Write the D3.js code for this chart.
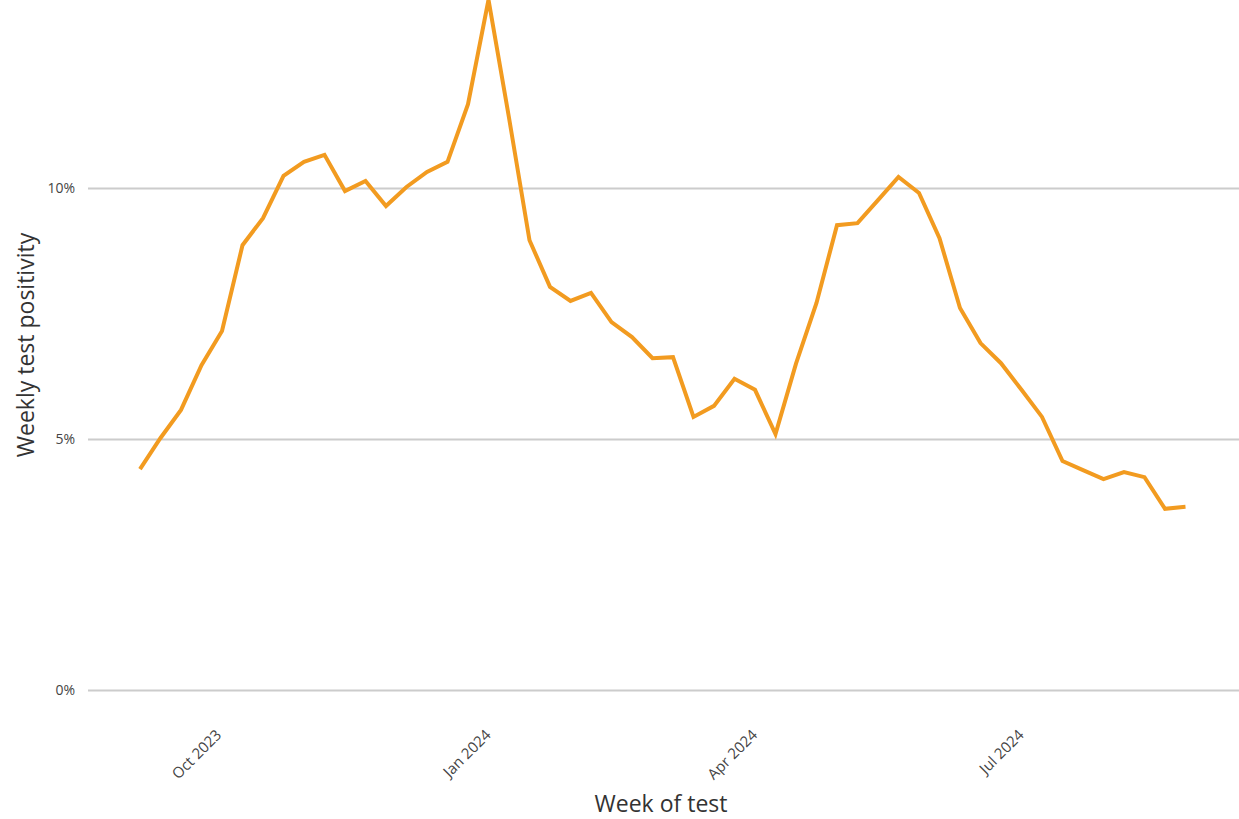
<!DOCTYPE html>
<html>
<head>
<meta charset="utf-8">
<script src="https://cdn.jsdelivr.net/npm/d3@7"></script>
<style>
  body { margin: 0; background: #fff; }
  text { font-family: "Open Sans", sans-serif; }
</style>
</head>
<body>
<div id="chart"></div>
<script>
// weekly positivity, first week starting 2023-09-04
const startWeek = '2023-09-04';
const positivity = [
  4.40, 5.02, 5.58, 6.47, 7.15, 8.86, 9.40, 10.24, 10.52, 10.66,
  9.94, 10.14, 9.64, 10.02, 10.32, 10.52, 11.67, 13.75, 11.40, 8.96,
  8.03, 7.75, 7.91, 7.33, 7.03, 6.61, 6.63, 5.44, 5.66, 6.20,
  5.98, 5.10, 6.50, 7.71, 9.26, 9.30, 9.76, 10.22, 9.90, 9.00,
  7.61, 6.91, 6.51, 5.98, 5.44, 4.56, 4.38, 4.20, 4.34, 4.24,
  3.61, 3.65
];
const yTicks = [0, 5, 10];
const xTicks = ['2023-10-01', '2024-01-01', '2024-04-01', '2024-07-01'];

const width = 1239;
const height = 819;

const t0 = new Date(startWeek + 'T00:00');
const data = positivity.map((v, i) => ({
  date: d3.timeDay.offset(t0, i * 7),
  value: v
}));

const svg = d3.select('#chart')
  .append('svg')
  .attr('width', width)
  .attr('height', height);

const xScale = d3.scaleTime()
  .domain(d3.extent(data, d => d.date))
  .range([140, 1185.5]);

const yScale = d3.scaleLinear()
  .domain([0, 10])
  .range([690, 188]);

// gridlines
svg.append('g')
  .attr('transform', 'translate(88,0)')
  .call(d3.axisLeft(yScale).tickValues(yTicks).tickFormat('').tickSize(-(width - 88)))
  .call(g => g.select('.domain').remove())
  .call(g => g.selectAll('line').attr('stroke', '#cccccc').attr('stroke-width', 2));

// y labels
svg.append('g')
  .attr('transform', 'translate(88,0)')
  .call(d3.axisLeft(yScale).tickValues(yTicks).tickSize(0).tickPadding(13).tickFormat(d => d + '%'))
  .call(g => g.select('.domain').remove())
  .call(g => g.selectAll('text')
    .attr('font-size', 14)
    .attr('fill', '#444')
    .style('font-family', '"Open Sans", sans-serif'));

// x labels
svg.append('g')
  .attr('transform', 'translate(0,716)')
  .call(d3.axisBottom(xScale)
    .tickValues(xTicks.map(s => new Date(s + 'T00:00')))
    .tickSize(0)
    .tickFormat(d3.timeFormat('%b %Y')))
  .call(g => g.select('.domain').remove())
  .call(g => g.selectAll('text')
    .attr('font-size', 15)
    .attr('fill', '#444')
    .attr('text-anchor', 'end')
    .attr('dy', '0.35em')
    .attr('transform', 'translate(-3,14) rotate(-45)')
    .style('font-family', '"Open Sans", sans-serif'));

// line
const line = d3.line()
  .x(d => xScale(d.date))
  .y(d => yScale(d.value));

svg.append('path')
  .datum(data)
  .attr('fill', 'none')
  .attr('stroke', '#f29b20')
  .attr('stroke-width', 4)
  .attr('stroke-linejoin', 'miter')
  .attr('d', line);

// axis titles
svg.append('text')
  .attr('x', 661)
  .attr('y', 812)
  .attr('text-anchor', 'middle')
  .attr('font-size', 23)
  .attr('fill', '#333')
  .text('Week of test');

svg.append('text')
  .attr('transform', 'translate(34,345) rotate(-90)')
  .attr('text-anchor', 'middle')
  .attr('font-size', 23)
  .attr('fill', '#333')
  .text('Weekly test positivity');
</script>
</body>
</html>
